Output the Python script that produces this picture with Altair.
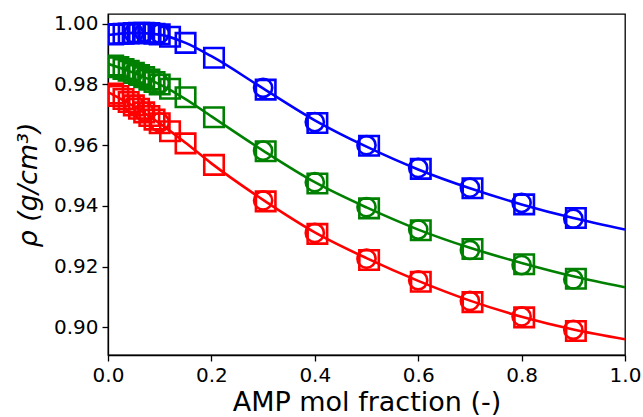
import altair as alt
import pandas as pd

# ---- data ----
sq_x = [0.01, 0.02, 0.03, 0.04, 0.05, 0.06, 0.07, 0.08, 0.09, 0.10, 0.12, 0.15,
        0.205, 0.305, 0.405, 0.505, 0.605, 0.705, 0.805, 0.905]
blue_sq = [0.9965, 0.9966, 0.9967, 0.9968, 0.9969, 0.9970, 0.9970, 0.9969, 0.9967, 0.9965,
           0.9957, 0.9937, 0.9888, 0.9783, 0.9673, 0.9598, 0.9522, 0.9458, 0.9405, 0.9360]
green_sq = [0.9862, 0.9857, 0.9851, 0.9845, 0.9838, 0.9831, 0.9824, 0.9816, 0.9808, 0.9800,
            0.9786, 0.9758, 0.9692, 0.9580, 0.9474, 0.9392, 0.9320, 0.9258, 0.9208, 0.9160]
red_sq = [0.9770, 0.9762, 0.9752, 0.9742, 0.9731, 0.9720, 0.9708, 0.9696, 0.9684, 0.9672,
          0.9646, 0.9606, 0.9535, 0.9415, 0.9308, 0.9222, 0.9150, 0.9083, 0.9033, 0.8988]

ci_x = [0.05, 0.07, 0.10, 0.30, 0.40, 0.50, 0.60, 0.70, 0.80, 0.90]
blue_ci = [0.9969, 0.9972, 0.9968, 0.9789, 0.9676, 0.9600, 0.9525, 0.9460, 0.9410, 0.9358]
green_ci = [0.9840, 0.9826, 0.9803, 0.9582, 0.9478, 0.9396, 0.9322, 0.9255, 0.9205, 0.9158]
red_ci = [0.9733, 0.9710, 0.9675, 0.9418, 0.9311, 0.9226, 0.9155, 0.9087, 0.9036, 0.8992]

fit_x = [0.0, 0.05, 0.10, 0.15, 0.20, 0.30, 0.40, 0.50, 0.60, 0.70, 0.80, 0.90, 1.0]
blue_fit = [0.9963, 0.9970, 0.9964, 0.9937, 0.9893, 0.9787, 0.9682, 0.9595, 0.9520, 0.9458, 0.9405, 0.9360, 0.9322]
green_fit = [0.9868, 0.9838, 0.9800, 0.9752, 0.9695, 0.9582, 0.9478, 0.9395, 0.9322, 0.9262, 0.9212, 0.9168, 0.9132]
red_fit = [0.9775, 0.9728, 0.9672, 0.9608, 0.9540, 0.9420, 0.9313, 0.9228, 0.9153, 0.9088, 0.9035, 0.8993, 0.8961]

series = ["blue", "green", "red"]
colors = ["#0000ff", "#008000", "#ff0000"]
x_ticks = [0.0, 0.2, 0.4, 0.6, 0.8, 1.0]
y_ticks = [0.90, 0.92, 0.94, 0.96, 0.98, 1.00]


def long(xs, ys_list):
    rows = []
    for name, ys in zip(series, ys_list):
        for xv, yv in zip(xs, ys):
            rows.append({"x": xv, "y": yv, "s": name})
    return pd.DataFrame(rows)


sq_df = long(sq_x, [blue_sq, green_sq, red_sq])
ci_df = long(ci_x, [blue_ci, green_ci, red_ci])
fit_df = long(fit_x, [blue_fit, green_fit, red_fit])

xs = alt.Scale(domain=[0, 1], nice=False, zero=False)
ys = alt.Scale(domain=[0.8909, 1.0032], nice=False, zero=False)
cs = alt.Scale(domain=series, range=colors)

X = alt.X("x:Q", scale=xs, axis=alt.Axis(values=x_ticks, format=".1f", title="AMP mol fraction (-)",
                                         titleFontSize=27, titlePadding=4, labelFlush=False))
Y = alt.Y("y:Q", scale=ys, axis=alt.Axis(values=y_ticks, format=".2f", title="ρ (g/cm³)",
                                         titleFontSize=27, titleFontStyle="italic", titlePadding=11))
C = alt.Color("s:N", scale=cs, legend=None)

lines = alt.Chart(fit_df).mark_line(strokeWidth=2.6, interpolate="monotone", clip=True).encode(
    x=X, y=Y, color=C, detail="s:N")
squares = alt.Chart(sq_df).mark_point(shape="square", size=380, strokeWidth=2.6, filled=False,
                                      opacity=1, clip=True).encode(x=X, y=Y, color=C)
circles = alt.Chart(ci_df).mark_point(shape="circle", size=330, strokeWidth=2.6, filled=False,
                                      opacity=1, clip=True).encode(x=X, y=Y, color=C)

chart = alt.layer(circles, squares, lines).properties(
    width=517, height=341,
    padding={"left": 108, "top": 14, "right": 18, "bottom": 62},
    autosize=alt.AutoSizeParams(type="none"),
    background="white",
).configure_view(stroke="black", strokeWidth=1.3).configure_axis(
    grid=False,
    labelFont="DejaVu Sans", titleFont="DejaVu Sans",
    labelFontSize=20, labelColor="black", titleColor="black",
    titleFontWeight="normal",
    domainColor="black", domainWidth=1.3,
    tickColor="black", tickWidth=1.3, tickSize=6,
    labelPadding=4,
)

chart.save("out.html", embed_options={"renderer": "svg", "actions": False})
